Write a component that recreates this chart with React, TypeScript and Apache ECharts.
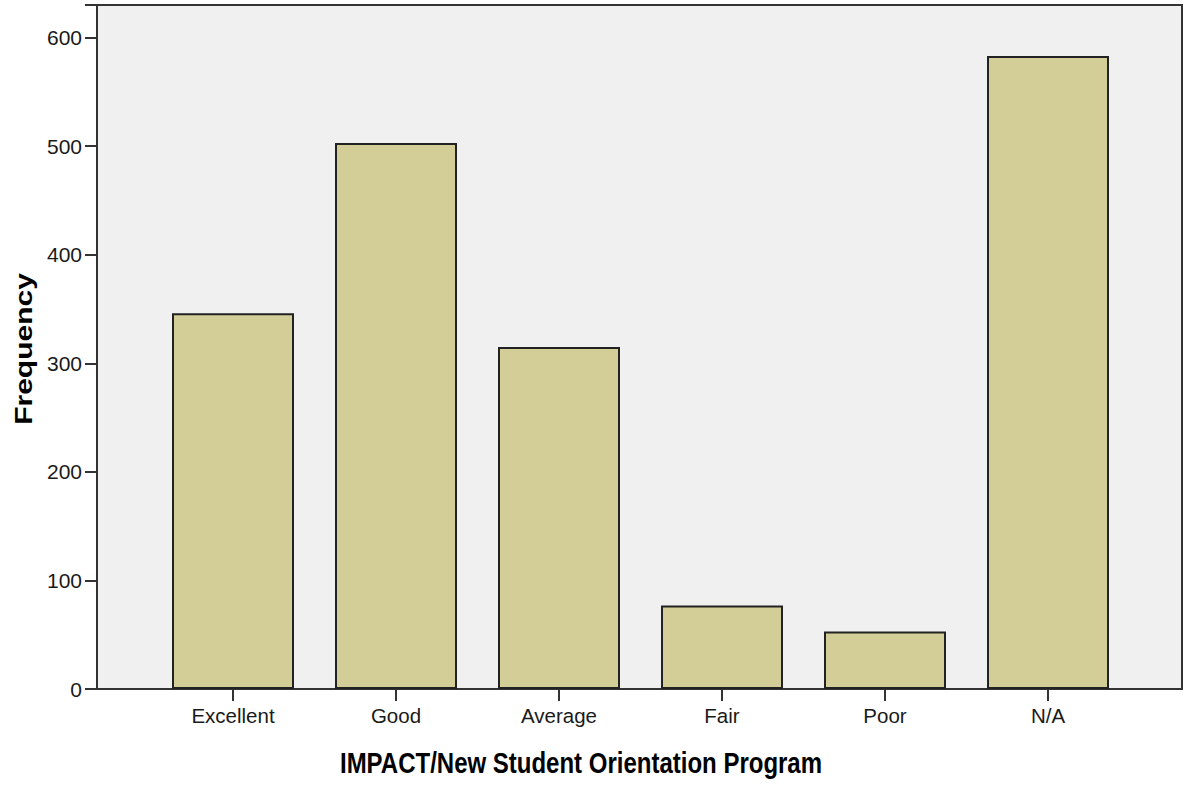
import React, { useEffect, useRef } from "react";
import * as echarts from "echarts";

const categories = ["Excellent", "Good", "Average", "Fair", "Poor", "N/A"];
const frequencies = [346, 503, 315, 77, 53, 583];
const yTicks = [0, 100, 200, 300, 400, 500, 600];
const xTitle = "IMPACT/New Student Orientation Program";
const yTitle = "Frequency";

const FONT = "'Liberation Sans', Arial, sans-serif";

export default function App() {
  const ref = useRef<HTMLDivElement>(null);
  useEffect(() => {
    if (!ref.current) return;
    const chart = echarts.init(ref.current, null, { renderer: "svg" });
    const yMax = 630;
    chart.setOption({
      animation: false,
      backgroundColor: "#ffffff",
      grid: [
        {
          left: 97,
          top: 5,
          width: 1085,
          height: 684,
          show: true,
          backgroundColor: "#f0f0f0",
          borderColor: "#333333",
          borderWidth: 2,
        },
        {
          left: 151.5,
          top: 5,
          width: 978,
          height: 684,
        },
      ],
      xAxis: [
        { type: "value", gridIndex: 0, show: false, min: 0, max: 1 },
        {
          type: "category",
          gridIndex: 1,
          data: categories,
          axisLine: { show: false },
          axisTick: {
            show: true,
            alignWithLabel: true,
            length: 12,
            lineStyle: { color: "#333333", width: 2 },
          },
          axisLabel: {
            margin: 16,
            fontSize: 20.5,
            fontFamily: FONT,
            color: "#1a1a1a",
          },
        },
      ],
      yAxis: [
        {
          type: "value",
          gridIndex: 0,
          min: 0,
          max: yMax,
          interval: 100,
          axisLine: { show: false },
          splitLine: { show: false },
          axisTick: {
            show: true,
            length: 12,
            lineStyle: { color: "#333333", width: 2 },
          },
          axisLabel: {
            margin: 15,
            fontSize: 21,
            fontFamily: FONT,
            color: "#1a1a1a",
            formatter: (v: number) => (yTicks.includes(v) ? String(v) : ""),
          },
        },
        {
          type: "value",
          gridIndex: 1,
          min: 0,
          max: yMax,
          show: false,
        },
      ],
      series: [
        {
          type: "bar",
          xAxisIndex: 1,
          yAxisIndex: 1,
          data: frequencies,
          barWidth: 122,
          itemStyle: {
            color: "#d3ce97",
            borderColor: "#222222",
            borderWidth: 2,
          },
        },
      ],
      graphic: [
        {
          type: "text",
          x: 581,
          y: 763,
          scaleY: 1.25,
          style: {
            text: xTitle,
            fontSize: 24,
            fontWeight: "bold",
            fontFamily: FONT,
            fill: "#000",
            align: "center",
            verticalAlign: "middle",
          },
        },
        {
          type: "text",
          x: 24,
          y: 349,
          rotation: Math.PI / 2,
          scaleX: 1.25,
          style: {
            text: yTitle,
            fontSize: 24,
            fontWeight: "bold",
            fontFamily: FONT,
            fill: "#000",
            align: "center",
            verticalAlign: "middle",
          },
        },
      ],
    });
    return () => chart.dispose();
  }, []);
  return (
    <div
      ref={ref}
      style={{ position: "fixed", left: 0, top: 0, width: 1186, height: 786 }}
    />
  );
}
